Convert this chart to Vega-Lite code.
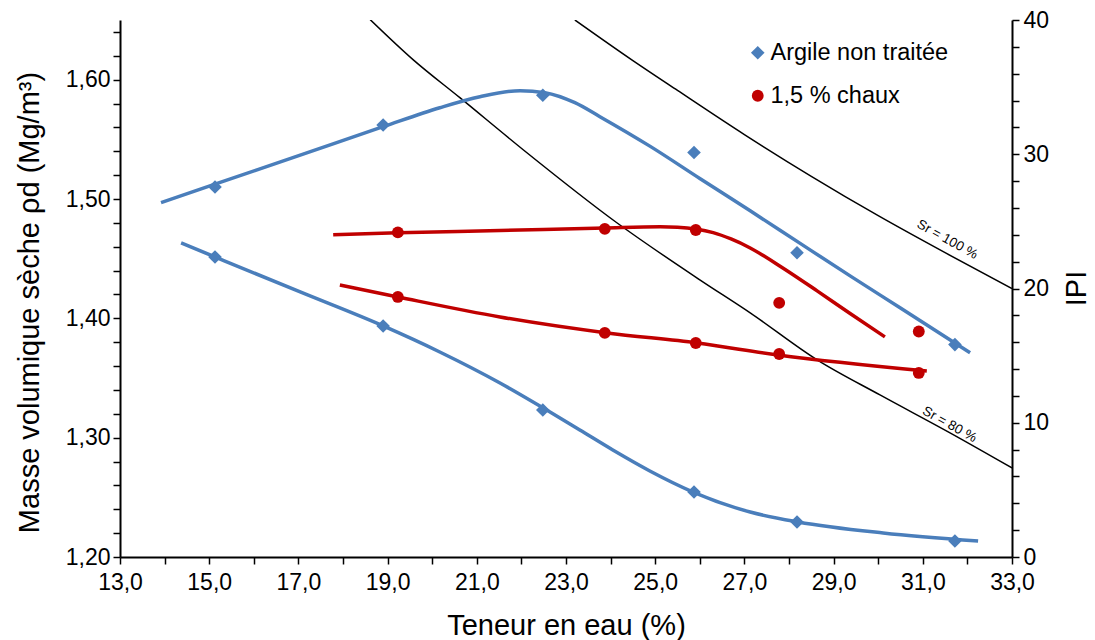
{
  "$schema": "https://vega.github.io/schema/vega-lite/v6.json",
  "width": 892,
  "height": 537,
  "autosize": {"type": "none"},
  "padding": {"left": 120, "top": 20, "right": 83, "bottom": 83},
  "background": "white",
  "config": {
    "view": {"stroke": null},
    "font": "Liberation Sans",
    "axis": {
      "labelFont": "Liberation Sans",
      "titleFont": "Liberation Sans",
      "labelFontSize": 23,
      "titleFontSize": 29,
      "titleFontWeight": "normal",
      "labelColor": "black",
      "titleColor": "black",
      "domainColor": "black",
      "domainWidth": 2,
      "tickColor": "black",
      "tickWidth": 1.5,
      "tickSize": 7,
      "grid": false
    },
    "legend": {
      "labelLimit": 400
    }
  },
  "datasets": {
    "sr": [
      {"w": 23.2, "rho": 1.65, "sr": "100"},
      {"w": 24.5, "rho": 1.616, "sr": "100"},
      {"w": 25.5, "rho": 1.591, "sr": "100"},
      {"w": 27.0, "rho": 1.554, "sr": "100"},
      {"w": 28.5, "rho": 1.519, "sr": "100"},
      {"w": 30.0, "rho": 1.486, "sr": "100"},
      {"w": 31.5, "rho": 1.455, "sr": "100"},
      {"w": 33.0, "rho": 1.425, "sr": "100"},
      {"w": 18.61, "rho": 1.6503, "sr": "80"},
      {"w": 19.57, "rho": 1.6168, "sr": "80"},
      {"w": 20.62, "rho": 1.5849, "sr": "80"},
      {"w": 22.04, "rho": 1.5413, "sr": "80"},
      {"w": 24.14, "rho": 1.4801, "sr": "80"},
      {"w": 26.0, "rho": 1.4323, "sr": "80"},
      {"w": 27.13, "rho": 1.4046, "sr": "80"},
      {"w": 28.63, "rho": 1.3652, "sr": "80"},
      {"w": 30.04, "rho": 1.3358, "sr": "80"},
      {"w": 31.61, "rho": 1.304, "sr": "80"},
      {"w": 33.0, "rho": 1.2746, "sr": "80"}
    ],
    "srlabels": [
      {"w": 31.55, "rho": 1.466, "label": "Sr = 100 %"},
      {"w": 31.6, "rho": 1.311, "label": "Sr = 80 %"}
    ],
    "denscurves": [
      {"w": 13.92, "rho": 1.4969, "serie": "Argile non traitée"},
      {"w": 15.13, "rho": 1.5124, "serie": "Argile non traitée"},
      {"w": 17.04, "rho": 1.5367, "serie": "Argile non traitée"},
      {"w": 18.9, "rho": 1.5606, "serie": "Argile non traitée"},
      {"w": 20.17, "rho": 1.5765, "serie": "Argile non traitée"},
      {"w": 21.07, "rho": 1.5857, "serie": "Argile non traitée"},
      {"w": 21.97, "rho": 1.5908, "serie": "Argile non traitée"},
      {"w": 22.53, "rho": 1.5891, "serie": "Argile non traitée"},
      {"w": 23.2, "rho": 1.5807, "serie": "Argile non traitée"},
      {"w": 23.76, "rho": 1.569, "serie": "Argile non traitée"},
      {"w": 24.88, "rho": 1.5443, "serie": "Argile non traitée"},
      {"w": 26.0, "rho": 1.5172, "serie": "Argile non traitée"},
      {"w": 27.13, "rho": 1.4901, "serie": "Argile non traitée"},
      {"w": 28.25, "rho": 1.4628, "serie": "Argile non traitée"},
      {"w": 29.37, "rho": 1.4356, "serie": "Argile non traitée"},
      {"w": 30.49, "rho": 1.4088, "serie": "Argile non traitée"},
      {"w": 32.06, "rho": 1.3711, "serie": "Argile non traitée"},
      {"w": 17.78, "rho": 1.47, "serie": "1,5 % chaux"},
      {"w": 19.23, "rho": 1.4717, "serie": "1,5 % chaux"},
      {"w": 21.52, "rho": 1.4736, "serie": "1,5 % chaux"},
      {"w": 23.87, "rho": 1.4758, "serie": "1,5 % chaux"},
      {"w": 25.11, "rho": 1.4767, "serie": "1,5 % chaux"},
      {"w": 25.5, "rho": 1.4763, "serie": "1,5 % chaux"},
      {"w": 25.91, "rho": 1.4748, "serie": "1,5 % chaux"},
      {"w": 26.3, "rho": 1.4718, "serie": "1,5 % chaux"},
      {"w": 26.7, "rho": 1.4665, "serie": "1,5 % chaux"},
      {"w": 27.13, "rho": 1.459, "serie": "1,5 % chaux"},
      {"w": 27.87, "rho": 1.442, "serie": "1,5 % chaux"},
      {"w": 28.63, "rho": 1.423, "serie": "1,5 % chaux"},
      {"w": 29.37, "rho": 1.404, "serie": "1,5 % chaux"},
      {"w": 30.15, "rho": 1.3845, "serie": "1,5 % chaux"}
    ],
    "denspts": [
      {"w": 15.13, "rho": 1.51, "serie": "Argile non traitée"},
      {"w": 18.9, "rho": 1.562, "serie": "Argile non traitée"},
      {"w": 22.48, "rho": 1.587, "serie": "Argile non traitée"},
      {"w": 25.87, "rho": 1.539, "serie": "Argile non traitée"},
      {"w": 28.18, "rho": 1.455, "serie": "Argile non traitée"},
      {"w": 31.72, "rho": 1.378, "serie": "Argile non traitée"},
      {"w": 19.23, "rho": 1.472, "serie": "1,5 % chaux"},
      {"w": 23.87, "rho": 1.475, "serie": "1,5 % chaux"},
      {"w": 25.91, "rho": 1.474, "serie": "1,5 % chaux"},
      {"w": 27.78, "rho": 1.413, "serie": "1,5 % chaux"},
      {"w": 30.91, "rho": 1.389, "serie": "1,5 % chaux"}
    ],
    "ipicurves": [
      {"w": 14.37, "ipi": 23.39, "serie": "Argile non traitée"},
      {"w": 15.13, "ipi": 22.35, "serie": "Argile non traitée"},
      {"w": 17.04, "ipi": 19.74, "serie": "Argile non traitée"},
      {"w": 18.9, "ipi": 17.21, "serie": "Argile non traitée"},
      {"w": 20.17, "ipi": 15.27, "serie": "Argile non traitée"},
      {"w": 21.52, "ipi": 12.96, "serie": "Argile non traitée"},
      {"w": 22.53, "ipi": 11.02, "serie": "Argile non traitée"},
      {"w": 23.31, "ipi": 9.46, "serie": "Argile non traitée"},
      {"w": 24.05, "ipi": 7.97, "serie": "Argile non traitée"},
      {"w": 24.88, "ipi": 6.41, "serie": "Argile non traitée"},
      {"w": 25.85, "ipi": 4.84, "serie": "Argile non traitée"},
      {"w": 27.13, "ipi": 3.35, "serie": "Argile non traitée"},
      {"w": 28.2, "ipi": 2.61, "serie": "Argile non traitée"},
      {"w": 30.11, "ipi": 1.79, "serie": "Argile non traitée"},
      {"w": 32.24, "ipi": 1.19, "serie": "Argile non traitée"},
      {"w": 17.93, "ipi": 20.26, "serie": "1,5 % chaux"},
      {"w": 19.23, "ipi": 19.37, "serie": "1,5 % chaux"},
      {"w": 21.52, "ipi": 17.88, "serie": "1,5 % chaux"},
      {"w": 23.92, "ipi": 16.69, "serie": "1,5 % chaux"},
      {"w": 25.94, "ipi": 15.94, "serie": "1,5 % chaux"},
      {"w": 27.75, "ipi": 15.05, "serie": "1,5 % chaux"},
      {"w": 31.09, "ipi": 13.85, "serie": "1,5 % chaux"}
    ],
    "ipipts": [
      {"w": 15.13, "ipi": 22.35, "serie": "Argile non traitée"},
      {"w": 18.9, "ipi": 17.21, "serie": "Argile non traitée"},
      {"w": 22.48, "ipi": 10.95, "serie": "Argile non traitée"},
      {"w": 25.87, "ipi": 4.84, "serie": "Argile non traitée"},
      {"w": 28.18, "ipi": 2.61, "serie": "Argile non traitée"},
      {"w": 31.72, "ipi": 1.19, "serie": "Argile non traitée"},
      {"w": 19.23, "ipi": 19.37, "serie": "1,5 % chaux"},
      {"w": 23.87, "ipi": 16.69, "serie": "1,5 % chaux"},
      {"w": 25.91, "ipi": 15.94, "serie": "1,5 % chaux"},
      {"w": 27.78, "ipi": 15.12, "serie": "1,5 % chaux"},
      {"w": 30.91, "ipi": 13.71, "serie": "1,5 % chaux"}
    ]
  },
  "encoding": {
    "x": {
      "field": "w",
      "type": "quantitative",
      "scale": {"domain": [13, 33], "nice": false, "zero": false},
      "axis": {
        "title": "Teneur en eau (%)",
        "values": [13,14,15,16,17,18,19,20,21,22,23,24,25,26,27,28,29,30,31,32,33],
        "labelExpr": "datum.value % 2 == 1 ? replace(format(datum.value, '.1f'), '.', ',') : ''",
        "labelPadding": 7,
        "titleY": 77,
        "titleBaseline": "alphabetic",
        "labelFlush": false,
        "labelOverlap": false
      }
    }
  },
  "layer": [
    {
      "encoding": {
        "y": {
          "field": "rho",
          "type": "quantitative",
          "scale": {"domain": [1.2, 1.65], "nice": false, "zero": false},
          "axis": {
            "title": "Masse volumique sèche ρd (Mg/m³)",
            "orient": "left",
            "values": [1.2,1.22,1.24,1.26,1.28,1.3,1.32,1.34,1.36,1.38,1.4,1.42,1.44,1.46,1.48,1.5,1.52,1.54,1.56,1.58,1.6,1.62,1.64],
            "labelExpr": "abs(datum.value * 10 - round(datum.value * 10)) < 0.001 ? replace(format(datum.value, '.2f'), '.', ',') : ''",
            "labelPadding": 3,
            "titleAngle": -90,
            "titleX": -91,
            "titleY": 282,
            "titleAlign": "center",
            "titleBaseline": "middle",
            "labelFlush": false,
            "labelOverlap": false
          }
        }
      },
      "layer": [
        {
          "data": {"name": "sr"},
          "mark": {"type": "line", "color": "black", "strokeWidth": 1.5, "interpolate": "monotone", "clip": true},
          "encoding": {"detail": {"field": "sr"}}
        },
        {
          "data": {"name": "srlabels"},
          "mark": {"type": "text", "angle": 29, "fontSize": 13.5, "color": "black", "align": "center", "baseline": "middle"},
          "encoding": {"text": {"field": "label"}}
        },
        {
          "data": {"name": "denscurves"},
          "transform": [{"filter": "datum.serie == 'Argile non traitée'"}],
          "mark": {"type": "line", "color": "#4A7EBB", "strokeWidth": 3.5, "interpolate": "monotone"},
          "encoding": {}
        },
        {
          "data": {"name": "denscurves"},
          "transform": [{"filter": "datum.serie == '1,5 % chaux'"}],
          "mark": {"type": "line", "color": "#C00000", "strokeWidth": 3.5, "interpolate": "monotone"},
          "encoding": {}
        },
        {
          "data": {"name": "denspts"},
          "mark": {"type": "point", "filled": true, "opacity": 1},
          "encoding": {
            "size": {
              "field": "serie",
              "type": "nominal",
              "scale": {"domain": ["Argile non traitée", "1,5 % chaux"], "range": [185, 140]},
              "legend": null
            },
            "color": {
              "field": "serie",
              "type": "nominal",
              "scale": {"domain": ["Argile non traitée", "1,5 % chaux"], "range": ["#4A7EBB", "#C00000"]},
              "legend": {
                "title": null,
                "orient": "none",
                "legendX": 626,
                "legendY": 21,
                "labelFontSize": 23.5,
                "labelFont": "Liberation Sans",
                "labelColor": "black",
                "labelOffset": 1,
                "labelLimit": 400,
                "rowPadding": 18,
                "symbolSize": 140,
                "symbolStrokeWidth": 0,
                "padding": 0
              }
            },
            "shape": {
              "field": "serie",
              "type": "nominal",
              "scale": {"domain": ["Argile non traitée", "1,5 % chaux"], "range": ["diamond", "circle"]},
              "legend": {
                "title": null,
                "orient": "none",
                "legendX": 626,
                "legendY": 21,
                "labelFontSize": 23.5,
                "labelFont": "Liberation Sans",
                "labelColor": "black",
                "labelOffset": 1,
                "labelLimit": 400,
                "rowPadding": 18,
                "symbolSize": 140,
                "symbolStrokeWidth": 0,
                "padding": 0
              }
            }
          }
        }
      ]
    },
    {
      "encoding": {
        "y": {
          "field": "ipi",
          "type": "quantitative",
          "scale": {"domain": [0, 40], "nice": false},
          "axis": {
            "title": "IPI",
            "orient": "right",
            "titleAngle": -90,
            "titleX": 64,
            "titleY": 268,
            "titleAlign": "center",
            "titleBaseline": "middle",
            "values": [0,2,4,6,8,10,12,14,16,18,20,22,24,26,28,30,32,34,36,38,40],
            "labelExpr": "datum.value % 10 == 0 ? format(datum.value, 'd') : ''",
            "labelPadding": 4,
            "labelFlush": false,
            "labelOverlap": false
          }
        }
      },
      "layer": [
        {
          "data": {"name": "ipicurves"},
          "transform": [{"filter": "datum.serie == 'Argile non traitée'"}],
          "mark": {"type": "line", "color": "#4A7EBB", "strokeWidth": 3.5, "interpolate": "monotone"},
          "encoding": {}
        },
        {
          "data": {"name": "ipicurves"},
          "transform": [{"filter": "datum.serie == '1,5 % chaux'"}],
          "mark": {"type": "line", "color": "#C00000", "strokeWidth": 3.5, "interpolate": "monotone"},
          "encoding": {}
        },
        {
          "data": {"name": "ipipts"},
          "mark": {"type": "point", "filled": true, "opacity": 1},
          "encoding": {
            "size": {
              "field": "serie",
              "type": "nominal",
              "scale": {"domain": ["Argile non traitée", "1,5 % chaux"], "range": [185, 140]},
              "legend": null
            },
            "color": {
              "field": "serie",
              "type": "nominal",
              "scale": {"domain": ["Argile non traitée", "1,5 % chaux"], "range": ["#4A7EBB", "#C00000"]},
              "legend": {
                "title": null,
                "orient": "none",
                "legendX": 626,
                "legendY": 21,
                "labelFontSize": 23.5,
                "labelFont": "Liberation Sans",
                "labelColor": "black",
                "labelOffset": 1,
                "labelLimit": 400,
                "rowPadding": 18,
                "symbolSize": 140,
                "symbolStrokeWidth": 0,
                "padding": 0
              }
            },
            "shape": {
              "field": "serie",
              "type": "nominal",
              "scale": {"domain": ["Argile non traitée", "1,5 % chaux"], "range": ["diamond", "circle"]},
              "legend": {
                "title": null,
                "orient": "none",
                "legendX": 626,
                "legendY": 21,
                "labelFontSize": 23.5,
                "labelFont": "Liberation Sans",
                "labelColor": "black",
                "labelOffset": 1,
                "labelLimit": 400,
                "rowPadding": 18,
                "symbolSize": 140,
                "symbolStrokeWidth": 0,
                "padding": 0
              }
            }
          }
        }
      ]
    }
  ],
  "resolve": {"scale": {"y": "independent"}}
}
